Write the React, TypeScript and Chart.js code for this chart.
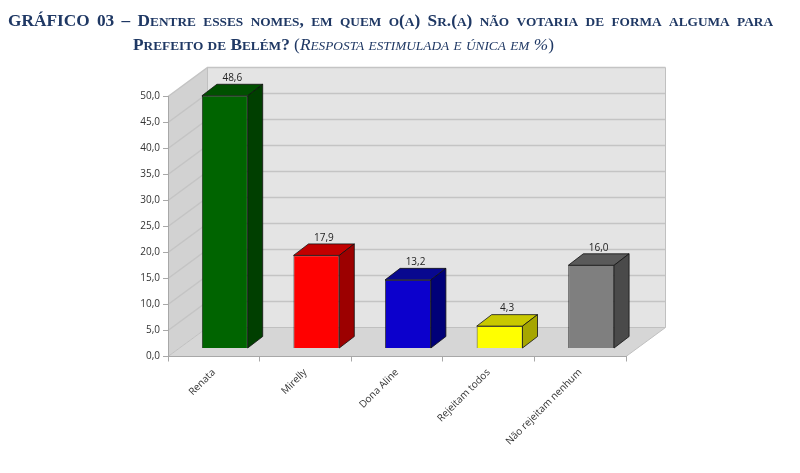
import React, { useEffect, useRef } from 'react';
import { Chart, registerables } from 'chart.js';

Chart.register(...registerables);

// data
const categories = ['Renata', 'Mirelly', 'Dona Aline', 'Rejeitam todos', 'Não rejeitam nenhum'];
const rejection = [48.6, 17.9, 13.2, 4.3, 16.0];
const yTicks = { min: 0, max: 50, step: 5 };

// colours per bar: front, top, side
const frontColors = ['#006400', '#ff0000', '#0c00cc', '#ffff00', '#7f7f7f'];
const topColors = ['#005000', '#c20000', '#08088f', '#c8c800', '#5a5a5a'];
const sideColors = ['#003f00', '#9c0000', '#000078', '#a6a600', '#4a4a4a'];

// oblique 3D geometry (px)
const BOX_DX = 39.5;
const BOX_DY = -29;
const BAR_DX = 11;
const BAR_DY = -8;
const BAR_DEPTH_X = 15;
const BAR_DEPTH_Y = -11.5;

const fmt = (v: number) => v.toFixed(1).replace('.', ',');

const box3d = {
  id: 'box3d',
  beforeDraw(chart: any) {
    const { ctx, chartArea, scales } = chart;
    const { left, right, top, bottom } = chartArea;
    ctx.save();
    // left wall
    ctx.beginPath();
    ctx.moveTo(left, bottom);
    ctx.lineTo(left, top);
    ctx.lineTo(left + BOX_DX, top + BOX_DY);
    ctx.lineTo(left + BOX_DX, bottom + BOX_DY);
    ctx.closePath();
    ctx.fillStyle = '#d2d2d2';
    ctx.fill();
    // back wall
    ctx.fillStyle = '#e4e4e4';
    ctx.fillRect(left + BOX_DX, top + BOX_DY, right - left, bottom - top);
    // floor
    ctx.beginPath();
    ctx.moveTo(left, bottom);
    ctx.lineTo(right, bottom);
    ctx.lineTo(right + BOX_DX, bottom + BOX_DY);
    ctx.lineTo(left + BOX_DX, bottom + BOX_DY);
    ctx.closePath();
    ctx.fillStyle = '#d6d6d6';
    ctx.fill();

    // grid lines on back and left walls
    const y = scales.y;
    ctx.strokeStyle = '#c4c4c4';
    ctx.lineWidth = 1.5;
    for (let v = yTicks.min + yTicks.step; v <= yTicks.max; v += yTicks.step) {
      const py = y.getPixelForValue(v);
      ctx.beginPath();
      ctx.moveTo(left, py);
      ctx.lineTo(left + BOX_DX, py + BOX_DY);
      ctx.lineTo(right + BOX_DX, py + BOX_DY);
      ctx.stroke();
    }
    // outlines
    ctx.strokeStyle = '#c0c0c0';
    ctx.lineWidth = 1;
    ctx.beginPath();
    ctx.moveTo(left + BOX_DX, top + BOX_DY);
    ctx.lineTo(left + BOX_DX, bottom + BOX_DY);
    ctx.lineTo(right + BOX_DX, bottom + BOX_DY);
    ctx.lineTo(right + BOX_DX, top + BOX_DY);
    ctx.moveTo(left, bottom);
    ctx.lineTo(left + BOX_DX, bottom + BOX_DY);
    ctx.moveTo(right, bottom);
    ctx.lineTo(right + BOX_DX, bottom + BOX_DY);
    ctx.stroke();
    ctx.restore();
  },
  beforeDatasetsDraw(chart: any) {
    chart.ctx.save();
    chart.ctx.translate(BAR_DX, BAR_DY);
  },
  afterDatasetsDraw(chart: any) {
    const { ctx } = chart;
    const meta = chart.getDatasetMeta(0);
    meta.data.forEach((bar: any, i: number) => {
      const l = bar.x - bar.width / 2;
      const r = bar.x + bar.width / 2;
      const t = bar.y;
      const b = bar.base;
      ctx.lineWidth = 0.8;
      ctx.strokeStyle = '#111';
      // top face
      ctx.beginPath();
      ctx.moveTo(l, t);
      ctx.lineTo(l + BAR_DEPTH_X, t + BAR_DEPTH_Y);
      ctx.lineTo(r + BAR_DEPTH_X, t + BAR_DEPTH_Y);
      ctx.lineTo(r, t);
      ctx.closePath();
      ctx.fillStyle = topColors[i];
      ctx.fill();
      ctx.stroke();
      // side face
      ctx.beginPath();
      ctx.moveTo(r, t);
      ctx.lineTo(r + BAR_DEPTH_X, t + BAR_DEPTH_Y);
      ctx.lineTo(r + BAR_DEPTH_X, b + BAR_DEPTH_Y);
      ctx.lineTo(r, b);
      ctx.closePath();
      ctx.fillStyle = sideColors[i];
      ctx.fill();
      ctx.stroke();
    });
    ctx.restore();

    // value labels above the bars
    ctx.save();
    ctx.font = '10px "Open Sans"';
    ctx.fillStyle = '#222';
    ctx.textAlign = 'center';
    ctx.textBaseline = 'bottom';
    meta.data.forEach((bar: any, i: number) => {
      ctx.fillText(
        fmt(rejection[i]),
        bar.x + BAR_DX + BAR_DEPTH_X / 2,
        bar.y + BAR_DY + BAR_DEPTH_Y - 1,
      );
    });
    ctx.restore();
  },
};

const BarChart3D = () => {
  const canvasRef = useRef<HTMLCanvasElement>(null);

  useEffect(() => {
    const canvas = canvasRef.current;
    let chart: Chart | null = null;

    if (canvas) {
      chart = new Chart(canvas, {
        type: 'bar',
        data: {
          labels: categories,
          datasets: [
            {
              data: rejection,
              backgroundColor: frontColors,
              borderColor: '#111',
              borderWidth: 0.8,
              barPercentage: 0.5,
              categoryPercentage: 1,
              clip: false,
            } as any,
          ],
        },
        options: {
          animation: false,
          responsive: false,
          layout: { padding: { top: 96.5, right: 174, left: 0, bottom: 0 } },
          plugins: {
            legend: { display: false },
            tooltip: { enabled: false },
          },
          scales: {
            x: {
              afterFit: (scale: any) => {
                scale.height = 116.5;
              },
              grid: {
                drawOnChartArea: false,
                tickLength: 5,
                color: '#a8a8a8',
              },
              border: { color: '#a8a8a8' },
              ticks: {
                minRotation: 45,
                maxRotation: 45,
                padding: 5,
                color: '#333',
                font: { family: 'Open Sans', size: 10 },
              },
            },
            y: {
              min: yTicks.min,
              max: yTicks.max,
              afterFit: (scale: any) => {
                scale.width = 168;
              },
              grid: {
                drawOnChartArea: false,
                tickLength: 5,
                color: '#a8a8a8',
              },
              border: { color: '#a8a8a8' },
              ticks: {
                stepSize: yTicks.step,
                padding: 3,
                color: '#333',
                font: { family: 'Open Sans', size: 10 },
                callback: (v: any) => fmt(Number(v)),
              },
            },
          },
        },
        plugins: [box3d],
      });
    }

    return () => {
      if (chart) {
        chart.destroy();
      }
    };
  }, []);

  return <canvas ref={canvasRef} width={800} height={473} style={{ width: 800, height: 473 }}></canvas>;
};

// Word-style small caps: lowercase runs shown as smaller capitals
const SmallCaps = ({ text }: { text: string }) => {
  const parts = text.match(/[a-zà-ÿ]+|[^a-zà-ÿ]+/g) || [];
  return (
    <>
      {parts.map((p, i) =>
        /[a-zà-ÿ]/.test(p[0]) ? (
          <span key={i} style={{ fontSize: '0.77em', textTransform: 'uppercase' }}>
            {p}
          </span>
        ) : (
          <React.Fragment key={i}>{p}</React.Fragment>
        ),
      )}
    </>
  );
};

const titleBase: React.CSSProperties = {
  position: 'absolute',
  fontFamily: '"Liberation Serif", "Times New Roman", serif',
  color: '#1f3864',
  fontSize: 17.3,
  lineHeight: '20px',
  whiteSpace: 'nowrap',
};

const App = () => (
  <div style={{ position: 'fixed', left: 0, top: 0, width: 800, height: 473, background: '#fff' }}>
    <BarChart3D />
    <div
      style={{
        ...titleBase,
        left: 8,
        top: 11,
        width: 765,
        fontWeight: 'bold',
        textAlign: 'justify',
        textAlignLast: 'justify',
        whiteSpace: 'normal',
        height: 20,
      }}
    >
      <SmallCaps text="GRÁFICO 03 – Dentre esses nomes, em quem o(a) Sr.(a) não votaria de forma alguma para" />
    </div>
    <div style={{ ...titleBase, left: 133, top: 35 }}>
      <span style={{ fontWeight: 'bold' }}>
        <SmallCaps text="Prefeito de Belém?" />
      </span>{' '}
      <span>
        (
        <i>
          <SmallCaps text="Resposta estimulada e única em %" />
        </i>
        )
      </span>
    </div>
  </div>
);

export default App;
